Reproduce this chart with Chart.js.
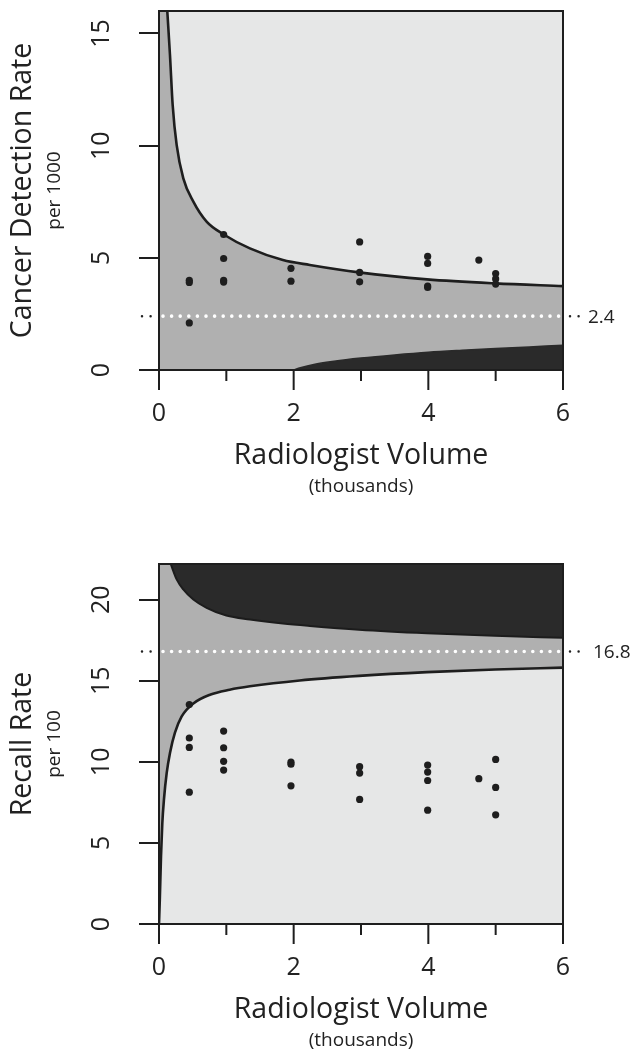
<!DOCTYPE html>
<html>
<head>
<meta charset="utf-8">
<script src="https://cdn.jsdelivr.net/npm/chart.js@4"></script>
<style>
  html, body { margin: 0; padding: 0; background: #ffffff; }
  canvas { display: block; }
</style>
</head>
<body>
<canvas id="cdr" width="634" height="525"></canvas>
<canvas id="recall" width="634" height="525"></canvas>
<script>
// ---------- DATA ----------
// Cancer detection rate (per 1000) by radiologist volume (thousands)
const cdrVolume = [0.45, 0.45, 0.45, 0.96, 0.96, 0.96, 0.96, 1.96, 1.96, 2.98, 2.98, 2.98, 3.99, 3.99, 3.99, 3.99, 4.75, 5.0, 5.0, 5.0];
const cdrRate   = [4.0, 3.9, 2.1, 6.04, 4.97, 4.0, 3.92, 4.53, 3.96, 5.71, 4.35, 3.93, 5.06, 4.75, 3.74, 3.68, 4.9, 4.3, 4.06, 3.83];
// Funnel limits
const cdrUpperX = [0.123, 0.163, 0.203, 0.262, 0.361, 0.51, 0.707, 0.955, 1.35, 1.84, 2.24, 2.97, 3.98, 4.99, 6.0];
const cdrUpperY = [16.0, 14.04, 11.81, 10.03, 8.54, 7.5, 6.61, 6.05, 5.42, 4.9, 4.68, 4.35, 4.04, 3.86, 3.74];
const cdrLowerX = [2.0, 2.1, 2.3, 2.6, 3.0, 3.5, 4.0, 4.5, 5.0, 5.5, 6.0];
const cdrLowerY = [0, 0.1, 0.25, 0.39, 0.53, 0.67, 0.79, 0.88, 0.96, 1.03, 1.1];
const cdrTarget = 2.4;

// Recall rate (per 100)
const recallVolume = [0.45, 0.45, 0.45, 0.45, 0.96, 0.96, 0.96, 0.96, 1.96, 1.96, 1.96, 2.98, 2.98, 2.98, 3.99, 3.99, 3.99, 3.99, 4.75, 5.0, 5.0, 5.0];
const recallRate   = [13.53, 11.47, 10.89, 8.13, 11.9, 10.87, 10.03, 9.49, 9.98, 9.85, 8.52, 9.7, 9.31, 7.68, 9.8, 9.37, 8.85, 7.02, 8.96, 10.15, 8.42, 6.73];
const recallUpperX = [0.174, 0.262, 0.36, 0.51, 0.707, 1.0, 1.35, 1.84, 2.24, 2.97, 3.98, 4.99, 6.0];
const recallUpperY = [22.2, 21.25, 20.63, 20.01, 19.5, 19.02, 18.78, 18.53, 18.38, 18.15, 17.93, 17.77, 17.65];
const recallLowerX = [0, 0.012, 0.03, 0.049, 0.074, 0.114, 0.163, 0.237, 0.337, 0.51, 0.757, 1.05, 1.35, 2.09, 2.97, 3.98, 4.99, 6.0];
const recallLowerY = [0, 1.5, 4.2, 6.2, 7.7, 9.3, 10.55, 11.8, 12.8, 13.6, 14.14, 14.45, 14.66, 15.02, 15.3, 15.53, 15.69, 15.81];
const recallTarget = 16.8;

// Axes
const xMin = 0, xMax = 6;
const xMajorTicks = [0, 2, 4, 6];
const xMinorTicks = [1, 3, 5];
const cdrYMax = 16;
const cdrYTicks = [0, 5, 10, 15];
const recallYMax = 22.2;
const recallYTicks = [0, 5, 10, 15, 20];

// ---------- STYLE ----------
const FONT = "'Open Sans', 'Noto Sans', sans-serif";
const LIGHT = '#e6e7e7';
const MID = '#b0b0b0';
const DARK = '#2a2a2a';
const INK = '#1e1e1e';

function pts(xs, ys) { return xs.map((x, i) => ({ x: x, y: ys[i] })); }

function axesPlugin(cfg) {
  return {
    id: 'rAxes_' + cfg.id,
    beforeDraw(chart) {
      const { ctx, chartArea: a } = chart;
      ctx.save();
      ctx.fillStyle = cfg.bg;
      ctx.fillRect(a.left, a.top, a.right - a.left, a.bottom - a.top);
      ctx.restore();
    },
    afterDraw(chart) {
      const { ctx, chartArea: a } = chart;
      const xs = chart.scales.x, ys = chart.scales.y;
      ctx.save();
      // frame
      ctx.strokeStyle = INK;
      ctx.lineWidth = 2;
      ctx.strokeRect(a.left, a.top, a.right - a.left, a.bottom - a.top);
      // ticks
      ctx.beginPath();
      cfg.yTicks.forEach(v => {
        const py = Math.round(ys.getPixelForValue(v));
        ctx.moveTo(a.left - 20, py); ctx.lineTo(a.left, py);
      });
      xMajorTicks.forEach(v => {
        const px = xs.getPixelForValue(v);
        ctx.moveTo(px, a.bottom); ctx.lineTo(px, a.bottom + 20);
      });
      xMinorTicks.forEach(v => {
        const px = xs.getPixelForValue(v);
        ctx.moveTo(px, a.bottom); ctx.lineTo(px, a.bottom + 11);
      });
      ctx.stroke();
      // tick labels
      ctx.fillStyle = '#222';
      ctx.font = '25px ' + FONT;
      ctx.textAlign = 'center';
      ctx.textBaseline = 'middle';
      xMajorTicks.forEach(v => {
        ctx.fillText(String(v), xs.getPixelForValue(v), a.bottom + 44);
      });
      cfg.yTicks.forEach(v => {
        ctx.save();
        ctx.translate(a.left - 57, ys.getPixelForValue(v));
        ctx.rotate(-Math.PI / 2);
        ctx.fillText(String(v), 0, 0);
        ctx.restore();
      });
      // axis titles
      const cx = (a.left + a.right) / 2, cy = (a.top + a.bottom) / 2;
      ctx.font = '28.5px ' + FONT;
      ctx.fillText('Radiologist Volume', cx, a.bottom + 86);
      ctx.font = '19px ' + FONT;
      ctx.fillText('(thousands)', cx, a.bottom + 117);
      ctx.save();
      ctx.translate(23, cy);
      ctx.rotate(-Math.PI / 2);
      ctx.font = '28.5px ' + FONT;
      ctx.fillText(cfg.yTitle, 0, 0);
      ctx.restore();
      ctx.save();
      ctx.translate(55, cy);
      ctx.rotate(-Math.PI / 2);
      ctx.font = '19px ' + FONT;
      ctx.fillText(cfg.ySub, 0, 0);
      ctx.restore();
      // reference line extensions outside the plot + label
      const ry = ys.getPixelForValue(cfg.ref);
      ctx.strokeStyle = '#222';
      ctx.lineWidth = 2.5;
      ctx.lineCap = 'round';
      ctx.setLineDash([0, 8.6]);
      ctx.beginPath();
      ctx.moveTo(a.left - 17, ry); ctx.lineTo(a.left - 2, ry);
      ctx.moveTo(a.right + 7, ry); ctx.lineTo(a.right + 24, ry);
      ctx.stroke();
      ctx.setLineDash([]);
      ctx.font = '19px ' + FONT;
      ctx.textAlign = 'left';
      ctx.fillText(String(cfg.ref), a.right + cfg.labelGap, ry + 1);
      ctx.restore();
    }
  };
}

function baseOptions(yMax, padTop, padBottom) {
  return {
    responsive: false,
    animation: false,
    devicePixelRatio: 1,
    layout: { padding: { left: 159, right: 71, top: padTop, bottom: padBottom } },
    plugins: { legend: { display: false }, tooltip: { enabled: false } },
    scales: {
      x: { type: 'linear', min: xMin, max: xMax, display: false },
      y: { type: 'linear', min: 0, max: yMax, display: false }
    },
    elements: { point: { radius: 0 } }
  };
}

function refLine(val, order) {
  return {
    data: [{ x: xMin, y: val }, { x: xMax, y: val }],
    borderColor: '#ffffff', borderWidth: 3.6, borderCapStyle: 'round',
    borderDash: [0, 8.6], borderDashOffset: -4, pointRadius: 0, fill: false, order: order
  };
}

function pointSet(xs, ys) {
  return {
    data: pts(xs, ys), showLine: false, pointRadius: 3.6, pointHoverRadius: 3.6,
    pointBackgroundColor: INK, pointBorderWidth: 0, order: 1
  };
}

// ---------- TOP: cancer detection rate ----------
// plot background = acceptable band (mid grey); region above the upper limit light, below lower limit dark
new Chart(document.getElementById('cdr'), {
  type: 'line',
  data: {
    datasets: [
      {
        data: pts(cdrUpperX, cdrUpperY), borderColor: INK, borderWidth: 2.6,
        backgroundColor: LIGHT, fill: 'end', cubicInterpolationMode: 'monotone', pointRadius: 0, order: 5
      },
      {
        data: pts(cdrLowerX, cdrLowerY), borderColor: DARK, borderWidth: 1.5,
        backgroundColor: DARK, fill: 'origin', cubicInterpolationMode: 'monotone', pointRadius: 0, order: 4
      },
      refLine(cdrTarget, 2),
      pointSet(cdrVolume, cdrRate)
    ]
  },
  options: baseOptions(cdrYMax, 11, 155),
  plugins: [axesPlugin({ id: 'cdr', bg: MID, yTicks: cdrYTicks, yTitle: 'Cancer Detection Rate', ySub: 'per 1000', ref: cdrTarget, labelGap: 25 })]
});

// ---------- BOTTOM: recall rate ----------
new Chart(document.getElementById('recall'), {
  type: 'line',
  data: {
    datasets: [
      {
        data: pts(recallLowerX, recallLowerY), borderColor: INK, borderWidth: 2.6,
        backgroundColor: MID, fill: 'end', cubicInterpolationMode: 'monotone', pointRadius: 0, order: 5
      },
      {
        data: pts(recallUpperX, recallUpperY), borderColor: '#1c1c1c', borderWidth: 2,
        backgroundColor: DARK, fill: 'end', cubicInterpolationMode: 'monotone', pointRadius: 0, order: 4
      },
      refLine(recallTarget, 2),
      pointSet(recallVolume, recallRate)
    ]
  },
  options: baseOptions(recallYMax, 39, 126),
  plugins: [axesPlugin({ id: 'recall', bg: LIGHT, yTicks: recallYTicks, yTitle: 'Recall Rate', ySub: 'per 100', ref: recallTarget, labelGap: 30 })]
});
</script>
</body>
</html>
